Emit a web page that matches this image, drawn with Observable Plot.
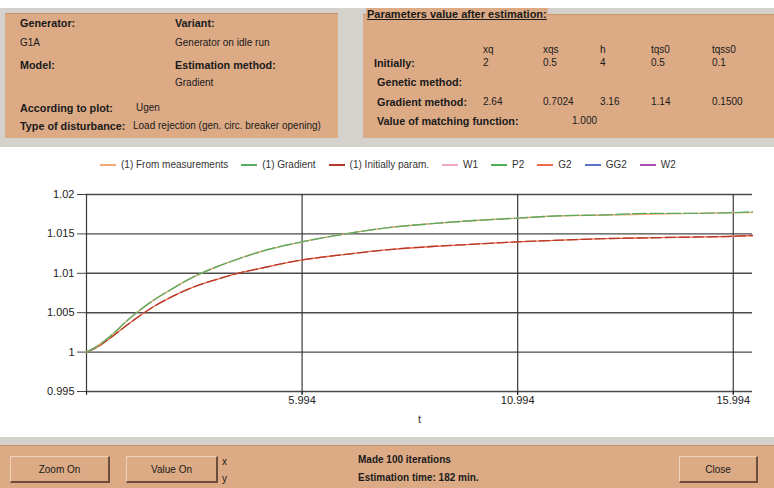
<!DOCTYPE html>
<html>
<head>
<meta charset="utf-8">
<script src="https://cdn.jsdelivr.net/npm/d3@7"></script>
<script src="https://cdn.jsdelivr.net/npm/@observablehq/plot@0.6"></script>
<style>
  html, body { margin: 0; padding: 0; }
  body { width: 774px; height: 488px; position: relative; overflow: hidden; background: #fff;
         font-family: "Liberation Sans", Arial, sans-serif; color: #1a1a1a; }
  .abs { position: absolute; white-space: nowrap; }
  .gray { position: absolute; background: #d5d2cd; }
  .tan { position: absolute; background: #dcab86; }
  .b { font-weight: bold; font-size: 10.8px !important; }
  .t10 { font-size: 10px; }
  .btn { position: absolute; background: #dcab86; border-top: 1px solid #f0d2bb; border-left: 1px solid #f0d2bb;
         border-right: 2px solid #6b4f3c; border-bottom: 2px solid #6b4f3c; font-size: 10px;
         display: flex; align-items: center; justify-content: center; box-sizing: border-box; }
  #legend { position: absolute; left: 100px; top: 159px; display: flex; gap: 13px; font-size: 10px; color: #333; }
  #legend .it { display: flex; align-items: center; gap: 5px; }
  #legend .sw { width: 16px; height: 2px; }
  #chart { position: absolute; left: 0; top: 178px; }
</style>
</head>
<body>
<!-- top gray band and panels -->
<div class="gray" style="left:0;top:8px;width:774px;height:139px;"></div>
<div class="tan" style="left:5px;top:13px;width:333px;height:124px;border-top:1px solid #c8926a;"></div>
<div class="tan" style="left:363px;top:14px;width:411px;height:123px;border-top:1px solid #c8926a;"></div>

<div class="abs t10 b" style="left:20px;top:17px;">Generator:</div>
<div class="abs t10 b" style="left:175px;top:17px;">Variant:</div>
<div class="abs t10" style="left:20px;top:37px;">G1A</div>
<div class="abs t10" style="left:175px;top:37px;">Generator on idle run</div>
<div class="abs t10 b" style="left:20px;top:59px;">Model:</div>
<div class="abs t10 b" style="left:175px;top:59px;">Estimation method:</div>
<div class="abs t10" style="left:175px;top:77px;">Gradient</div>
<div class="abs t10 b" style="left:20px;top:102px;">According to plot:</div>
<div class="abs t10" style="left:136px;top:102px;">Ugen</div>
<div class="abs t10 b" style="left:20px;top:120px;">Type of disturbance:</div>
<div class="abs t10" style="left:133px;top:120px;">Load rejection (gen. circ. breaker opening)</div>

<div class="abs" style="left:366px;top:8px;font-size:11px;font-weight:bold;text-decoration:underline;background:#dcab86;padding:0 1px;">Parameters value after estimation:</div>
<div id="params"></div>

<!-- white chart area separators -->
<div class="gray" style="left:0;top:437px;width:774px;height:8px;"></div>
<div class="tan" style="left:0;top:445px;width:774px;height:43px;border-top:1px solid #c8926a;"></div>

<div id="legend"></div>
<div id="chart"></div>

<div class="btn" style="left:10px;top:456px;width:100px;height:27px;">Zoom On</div>
<div class="btn" style="left:126px;top:456px;width:92px;height:27px;">Value On</div>
<div class="abs t10" style="left:222px;top:456px;">x</div>
<div class="abs t10" style="left:222px;top:473px;">y</div>
<div class="abs t10" style="left:358px;top:454px;font-weight:600;">Made 100 iterations</div>
<div class="abs t10" style="left:358px;top:472px;font-weight:600;">Estimation time: 182 min.</div>
<div class="btn" style="left:679px;top:456px;width:79px;height:27px;">Close</div>

<script>
// ---- parameter table ----
const paramNames = ["xq", "xqs", "h", "tqs0", "tqss0"];
const paramInitial = ["2", "0.5", "4", "0.5", "0.1"];
const paramGradient = ["2.64", "0.7024", "3.16", "1.14", "0.1500"];
const matchingValue = "1.000";

// ---- series ----
const seriesNames = ["(1) From measurements", "(1) Gradient", "(1) Initially param.", "W1", "P2", "G2", "GG2", "W2"];
const seriesColors = ["#f2a872", "#5cab62", "#b3392a", "#f0a8c4", "#4db055", "#ee6a4a", "#5a72c2", "#a84fae"];

const t = [0.994, 1.2, 1.5, 2, 2.5, 3, 3.5, 4, 4.5, 5, 6, 7, 8, 9, 10, 11, 12, 13, 14, 15, 16, 16.44];
const fromMeasurements = [1.0000, 1.0006, 1.0018, 1.0043, 1.0064, 1.0081, 1.0096, 1.0108, 1.0118, 1.0127, 1.0140, 1.0150, 1.0158, 1.0163, 1.0167, 1.0170, 1.0173, 1.0174, 1.0175, 1.0176, 1.0177, 1.0177];
const gradient         = [1.0000, 1.0006, 1.0018, 1.0043, 1.0064, 1.0081, 1.0096, 1.0108, 1.0118, 1.0127, 1.0140, 1.0150, 1.0158, 1.0163, 1.0167, 1.0170, 1.0173, 1.0174, 1.0176, 1.0176, 1.0177, 1.0178];
const initiallyParam   = [1.0000, 1.0005, 1.0016, 1.0037, 1.0056, 1.0071, 1.0083, 1.0092, 1.0100, 1.0106, 1.0117, 1.0124, 1.0130, 1.0134, 1.0137, 1.0140, 1.0142, 1.0144, 1.0145, 1.0146, 1.0147, 1.0148];

const xTicks = [0.994, 5.994, 10.994, 15.994];
const xTickLabels = ["", "5.994", "10.994", "15.994"];
const yTicks = [0.995, 1, 1.005, 1.01, 1.015, 1.02];
const yTickLabels = ["0.995", "1", "1.005", "1.01", "1.015", "1.02"];

// parameter table layout
const params = document.getElementById("params");
const colX = [483, 543, 600, 651, 712];
function put(text, x, y, bold) {
  const d = document.createElement("div");
  d.className = "abs t10" + (bold ? " b" : "");
  d.style.left = x + "px"; d.style.top = y + "px";
  d.textContent = text; params.appendChild(d);
}
paramNames.forEach((n, i) => put(n, colX[i], 44, false));
put("Initially:", 374, 57, true);
paramInitial.forEach((v, i) => put(v, colX[i], 57, false));
put("Genetic method:", 377, 76, true);
put("Gradient method:", 377, 96, true);
paramGradient.forEach((v, i) => put(v, colX[i], 96, false));
put("Value of matching function:", 377, 115, true);
put(matchingValue, 572, 115, false);

// legend
const legend = document.getElementById("legend");
seriesNames.forEach((n, i) => {
  const it = document.createElement("div"); it.className = "it";
  const sw = document.createElement("div"); sw.className = "sw"; sw.style.background = seriesColors[i];
  const tx = document.createElement("span"); tx.textContent = n;
  it.appendChild(sw); it.appendChild(tx); legend.appendChild(it);
});

const rows = t.map((tt, i) => ({t: tt, m: fromMeasurements[i], g: gradient[i], p: initiallyParam[i]}));

const chart = Plot.plot({
  width: 774,
  height: 258,
  marginTop: 16,
  marginBottom: 45,
  marginLeft: 86,
  marginRight: 22,
  style: {background: "transparent", fontSize: "11px", fontFamily: "'Liberation Sans', Arial, sans-serif", color: "#222"},
  x: {domain: [0.994, 16.44], label: null},
  y: {domain: [0.995, 1.02], label: null},
  marks: [
    Plot.ruleY(yTicks, {stroke: "#4a4a4a", strokeWidth: 1.4}),
    Plot.ruleX(xTicks, {stroke: "#3a3a3a", strokeWidth: 1.2, y1: 0.9945, y2: 1.02}),
    Plot.axisY({ticks: yTicks, tickSize: 9, tickPadding: 3, tickFormat: (d, i) => yTickLabels[i], stroke: "#444", label: null}),
    Plot.axisX({ticks: xTicks, tickSize: 3, tickPadding: 2, tickFormat: (d, i) => xTickLabels[i], label: null}),
    Plot.line(rows, {x: "t", y: "p", stroke: seriesColors[5], strokeWidth: 1.3, curve: "monotone-x"}),
    Plot.line(rows, {x: "t", y: "p", stroke: seriesColors[2], strokeWidth: 1.3, strokeDasharray: "10,4", curve: "monotone-x"}),
    Plot.line(rows, {x: "t", y: "m", stroke: seriesColors[0], strokeWidth: 1.4, curve: "monotone-x"}),
    Plot.line(rows, {x: "t", y: "g", stroke: seriesColors[1], strokeWidth: 1.4, strokeDasharray: "14,3", curve: "monotone-x"}),
    Plot.text(["t"], {frameAnchor: "bottom", dy: 31, fill: "#333", fontSize: 11})
  ]
});
document.getElementById("chart").appendChild(chart);
</script>
</body>
</html>
